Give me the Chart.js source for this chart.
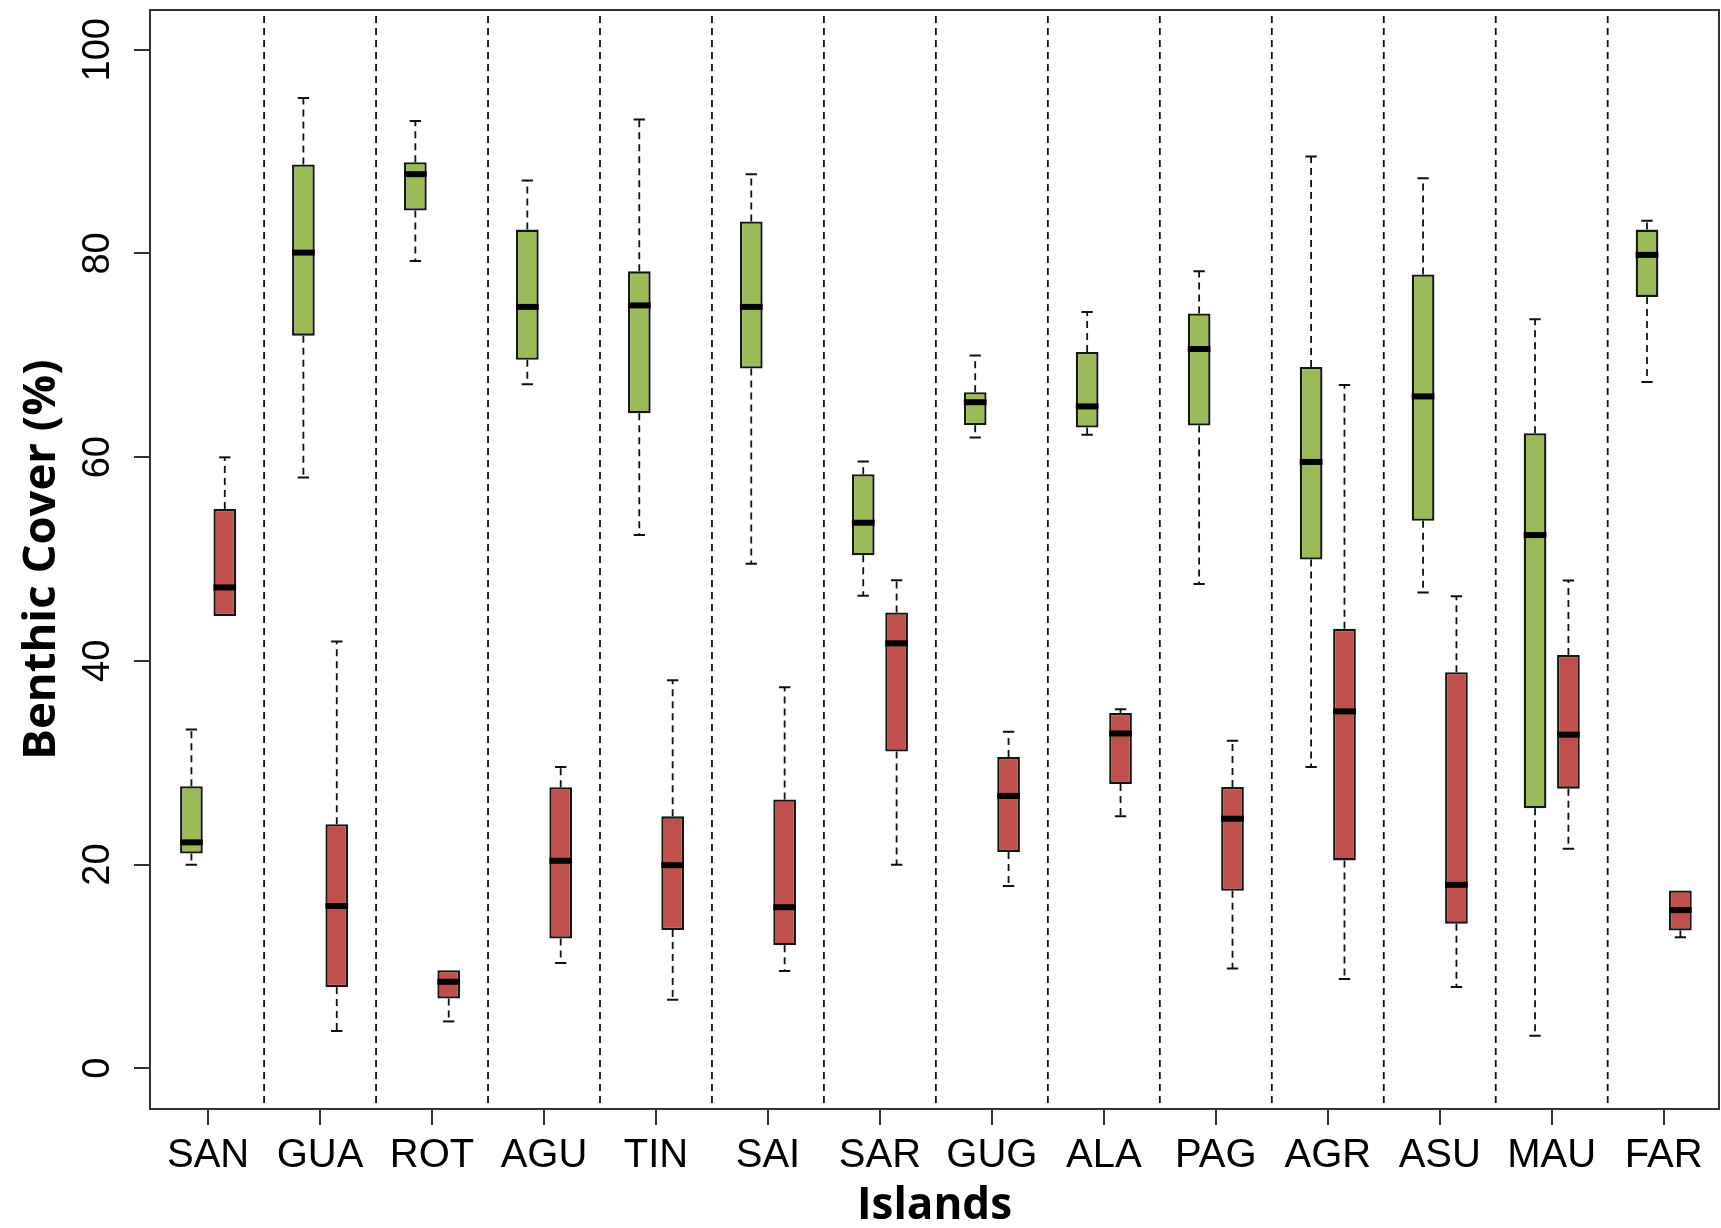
<!DOCTYPE html>
<html>
<head>
<meta charset="utf-8">
<title>Benthic Cover by Island</title>
<script src="https://cdn.jsdelivr.net/npm/chart.js@4.4.1/dist/chart.umd.min.js"></script>
<style>
	html, body { margin: 0; padding: 0; background: #ffffff; }
</style>
</head>
<body>
<canvas id="boxChart" width="1721" height="1228"></canvas>
<script>
// Data

var Islands = ["SAN", "GUA", "ROT", "AGU", "TIN", "SAI", "SAR", "GUG", "ALA", "PAG", "AGR", "ASU", "MAU", "FAR"];
var YTicks = [0, 20, 40, 60, 80, 100];

// green series
var GreenMin = [19.98, 57.99, 79.26, 67.16, 52.35, 49.53, 46.38, 61.93, 62.20, 47.55, 29.57, 46.72, 3.18, 67.38];
var GreenQ1  = [21.08, 71.93, 84.22, 69.56, 64.30, 68.70, 50.37, 63.14, 62.91, 63.10, 49.95, 53.75, 25.52, 75.73];
var GreenMed = [22.18, 80.08, 87.78, 74.75, 74.90, 74.75, 53.56, 65.39, 64.98, 70.62, 59.53, 65.96, 52.35, 79.86];
var GreenQ3  = [27.69, 88.73, 88.95, 82.34, 78.24, 83.13, 58.33, 66.37, 70.32, 74.11, 68.85, 77.94, 62.35, 82.34];
var GreenMax = [33.26, 95.26, 93.01, 87.15, 93.16, 87.78, 59.57, 69.98, 74.26, 78.24, 89.51, 87.37, 73.55, 83.20];

// red series
var RedMin = [44.40, 3.65, 4.60, 10.34, 6.73, 9.55, 19.98, 17.89, 24.73, 9.79, 8.77, 7.98, 21.55, 12.86];
var RedQ1  = [44.40, 7.98, 6.84, 12.74, 13.57, 12.08, 31.10, 21.24, 27.92, 17.42, 20.41, 14.20, 27.45, 13.53];
var RedMed = [47.21, 15.93, 8.49, 20.37, 19.94, 15.81, 41.72, 26.74, 32.87, 24.50, 35.04, 18.01, 32.75, 15.53];
var RedQ3  = [54.91, 23.95, 9.63, 27.60, 24.73, 26.38, 44.75, 30.55, 34.88, 27.61, 43.14, 38.89, 40.58, 17.46];
var RedMax = [59.98, 41.91, 9.63, 29.57, 38.10, 37.40, 47.92, 33.03, 35.24, 32.16, 67.08, 46.35, 47.89, 17.46];

var Whiskers = [
	{ lo: GreenMin, q1: GreenQ1, med: GreenMed, q3: GreenQ3, hi: GreenMax },
	{ lo: RedMin, q1: RedQ1, med: RedMed, q3: RedQ3, hi: RedMax }
	];

var SansFamily = "'Liberation Sans', Arial, sans-serif";
var TitleFamily = "'Open Sans', sans-serif";
var DashPattern = [7, 5];

function box_data(q1, q3) {
	var out = [];
	for (var i = 0; i < q1.length; i++) {
		out.push({ x: i + 1, y: [q1[i], q3[i]] });
		}
	return out;
	}

// Plugin: dividers, whiskers, medians and the plot frame

var boxExtras = {
	id: 'boxExtras',
	beforeDatasetsDraw: function(chart) {
		var ctx = chart.ctx;
		var xs = chart.scales.x;
		var ys = chart.scales.y;
		var area = chart.chartArea;
		ctx.save();
		ctx.strokeStyle = '#111';
		ctx.lineWidth = 1.8;
		ctx.setLineDash(DashPattern);
		for (var i = 1; i < Islands.length; i++) {
			var px = xs.getPixelForValue(i + 0.5);
			ctx.beginPath();
			ctx.moveTo(px, area.top + 6);
			ctx.lineTo(px, area.bottom);
			ctx.stroke();
			}
		for (var d = 0; d < Whiskers.length; d++) {
			var w = Whiskers[d];
			var meta = chart.getDatasetMeta(d);
			meta.data.forEach(function(bar, j) {
				var yq1 = ys.getPixelForValue(w.q1[j]);
				var yq3 = ys.getPixelForValue(w.q3[j]);
				var ylo = ys.getPixelForValue(w.lo[j]);
				var yhi = ys.getPixelForValue(w.hi[j]);
				var half = bar.width / 4;
				ctx.setLineDash(DashPattern);
				ctx.lineWidth = 1.8;
				ctx.beginPath();
				ctx.moveTo(bar.x, yq3); ctx.lineTo(bar.x, yhi);
				ctx.moveTo(bar.x, yq1); ctx.lineTo(bar.x, ylo);
				ctx.stroke();
				ctx.setLineDash([]);
				ctx.lineWidth = 2;
				ctx.beginPath();
				if (w.hi[j] > w.q3[j]) { ctx.moveTo(bar.x - half, yhi); ctx.lineTo(bar.x + half, yhi); }
				if (w.lo[j] < w.q1[j]) { ctx.moveTo(bar.x - half, ylo); ctx.lineTo(bar.x + half, ylo); }
				ctx.stroke();
				});
			}
		ctx.restore();
		},
	afterDatasetsDraw: function(chart) {
		var ctx = chart.ctx;
		var ys = chart.scales.y;
		var area = chart.chartArea;
		ctx.save();
		ctx.strokeStyle = '#000';
		ctx.lineWidth = 6;
		for (var d = 0; d < Whiskers.length; d++) {
			var w = Whiskers[d];
			var meta = chart.getDatasetMeta(d);
			meta.data.forEach(function(bar, j) {
				var ym = ys.getPixelForValue(w.med[j]);
				ctx.beginPath();
				ctx.moveTo(bar.x - bar.width / 2, ym);
				ctx.lineTo(bar.x + bar.width / 2, ym);
				ctx.stroke();
				});
			}
		// box round the plot
		ctx.strokeStyle = '#333';
		ctx.lineWidth = 2;
		ctx.strokeRect(area.left, area.top, area.right - area.left, area.bottom - area.top);
		ctx.restore();
		}
	};

// Chart

var Ctxt = document.getElementById("boxChart").getContext("2d");

var ChartInst = new Chart(Ctxt, {
	type: 'bar',
	data: {
		datasets: [{
			label: 'green',
			data: box_data(GreenQ1, GreenQ3),
			backgroundColor: '#9BBB59',
			borderColor: '#151515',
			borderWidth: 2.3,
			borderSkipped: false
			},
			{
			label: 'red',
			data: box_data(RedQ1, RedQ3),
			backgroundColor: '#C0504D',
			borderColor: '#151515',
			borderWidth: 2.3,
			borderSkipped: false
			}]
		},
	options: {
		responsive: false,
		animation: false,
		categoryPercentage: 0.596,
		barPercentage: 0.68,
		layout: { padding: { left: 0, right: 2, top: 10, bottom: 0 } },
		plugins: {
			legend: { display: false },
			tooltip: { enabled: false }
			},
		scales: {
			x: {
				type: 'linear',
				min: 0.481,
				max: 14.494,
				offset: false,
				afterBuildTicks: function(scale) {
					scale.ticks = Islands.map(function(n, i) { return { value: i + 1 }; });
					},
				afterFit: function(scale) {
					scale.height = 119;
					scale.paddingLeft = 0;
					scale.paddingRight = 0;
					},
				grid: { display: true, offset: false, drawOnChartArea: false, drawTicks: true, tickLength: 16, color: '#333', lineWidth: 2 },
				border: { display: true, color: '#333', width: 2 },
				ticks: {
					autoSkip: false,
					maxRotation: 0,
					padding: 7,
					color: '#000',
					font: { family: SansFamily, size: 40 },
					callback: function(v, i) { return Islands[i]; }
					},
				title: {
					display: true,
					text: 'Islands',
					color: '#000',
					font: { family: TitleFamily, size: 44, weight: 'bold', lineHeight: 1 },
					padding: 0
					}
				},
			y: {
				min: -4.0,
				max: 103.9,
				afterBuildTicks: function(scale) {
					scale.ticks = YTicks.map(function(v) { return { value: v }; });
					},
				afterFit: function(scale) {
					scale.width = 150;
					scale.paddingTop = 0;
					scale.paddingBottom = 0;
					},
				grid: { display: true, drawOnChartArea: false, drawTicks: true, tickLength: 16, color: '#333', lineWidth: 2 },
				border: { display: true, color: '#333', width: 2 },
				ticks: {
					autoSkip: false,
					minRotation: 90,
					maxRotation: 90,
					crossAlign: 'center',
					padding: 4,
					color: '#000',
					font: { family: SansFamily, size: 38 }
					},
				title: {
					display: true,
					text: 'Benthic Cover (%)',
					color: '#000',
					font: { family: TitleFamily, size: 45.5, weight: 'bold' },
					padding: { top: 15, bottom: 0 }
					}
				}
			}
		},
	plugins: [boxExtras]
	});
</script>
</body>
</html>
